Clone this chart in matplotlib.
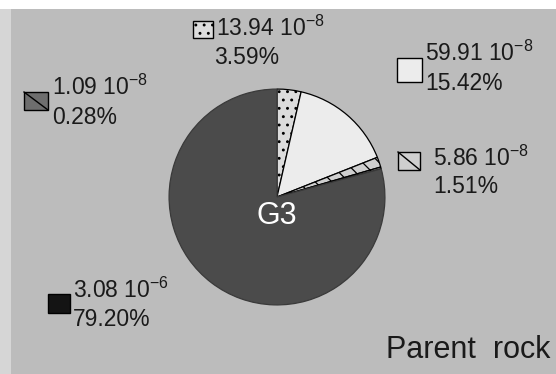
import matplotlib
matplotlib.use("Agg")
import matplotlib.pyplot as plt
from matplotlib.patches import Rectangle

plt.rcParams['font.family'] = ['Liberation Sans', 'DejaVu Sans']
plt.rcParams['mathtext.fontset'] = 'custom'
plt.rcParams['mathtext.rm'] = 'Liberation Sans'
plt.rcParams['mathtext.it'] = 'Liberation Sans:italic'
plt.rcParams['hatch.linewidth'] = 0.9

# Fractions of each component (clockwise from 12 o'clock)
shares = [3.59, 15.42, 1.51, 0.28, 79.20]
amounts = ["13.94", "59.91", "5.86", "1.09", "3.08"]
exponents = ["-8", "-8", "-8", "-8", "-6"]
faces = ["#dcdcdc", "#ececec", "#cfcfcf", "#8a8a8a", "#4b4b4b"]
swatch_faces = ["#dcdcdc", "#ececec", "#cfcfcf", "#6e6e6e", "#141414"]
hatches = ["..", None, "\\\\", "\\\\", None]
swatch_hatches = ["..", None, None, None, None]
swatch_diagonal = [False, False, True, True, False]
center_label = "G3"
panel_title = "Parent rock"

W, H = 556, 374
fig = plt.figure(figsize=(W / 100, H / 100), dpi=100, facecolor="#d6d6d6")

# background panel in pixel coordinates
bg = fig.add_axes([0, 0, 1, 1])
bg.set_xlim(0, W)
bg.set_ylim(H, 0)
bg.axis("off")
bg.add_patch(Rectangle((0, 0), W, 9, facecolor="white", edgecolor="none"))
bg.add_patch(Rectangle((11, 9), W - 11, H - 9, facecolor="#bcbcbc", edgecolor="none"))

# pie
cx, cy, r = 277, 197, 109
pax = fig.add_axes([(cx - r) / W, (H - cy - r) / H, 2 * r / W, 2 * r / H])
wedges, _ = pax.pie(shares, startangle=90, counterclock=False, colors=faces,
                    wedgeprops=dict(edgecolor="black", linewidth=0.9))
for w, h in zip(wedges, hatches):
    if h:
        w.set_hatch(h)
wedges[-1].set_edgecolor("#3a3a3a")
pax.set_xlim(-1.01, 1.01)
pax.set_ylim(-1.01, 1.01)
pax.set_aspect("equal")
pax.axis("off")
pax.text(0, -0.18, center_label, color="white", fontsize=22,
         ha="center", va="center")

# legend-style labels: swatch box, value line, percentage line
boxes = [(193, 21, 20, 17), (397, 58, 25, 24), (398, 152, 22, 18),
         (24, 92, 24, 18), (48, 294, 22, 19)]
text_pos = [(216, 28, 214, 57), (425, 53, 425, 83), (433, 158, 433, 186),
            (52, 87, 52, 117), (73, 290, 73, 320)]

for i in range(len(shares)):
    x, y, bw, bh = boxes[i]
    bg.add_patch(Rectangle((x, y), bw, bh, facecolor=swatch_faces[i],
                           edgecolor="black", linewidth=1.0,
                           hatch=swatch_hatches[i]))
    if swatch_diagonal[i]:
        bg.plot([x, x + bw], [y, y + bh], color="black", linewidth=1.0)
    tx1, ty1, tx2, ty2 = text_pos[i]
    bg.text(tx1, ty1, f"{amounts[i]} 10$^{{{exponents[i]}}}$", fontsize=16.5,
            ha="left", va="center", color="#1a1a1a")
    bg.text(tx2, ty2, f"{shares[i]:.2f}%", fontsize=16.5,
            ha="left", va="center", color="#1a1a1a")

bg.text(550, 350, panel_title.replace(" ", "  "), fontsize=22,
        ha="right", va="center", color="#1a1a1a")

fig.savefig("out.png", dpi=100, facecolor=fig.get_facecolor())
